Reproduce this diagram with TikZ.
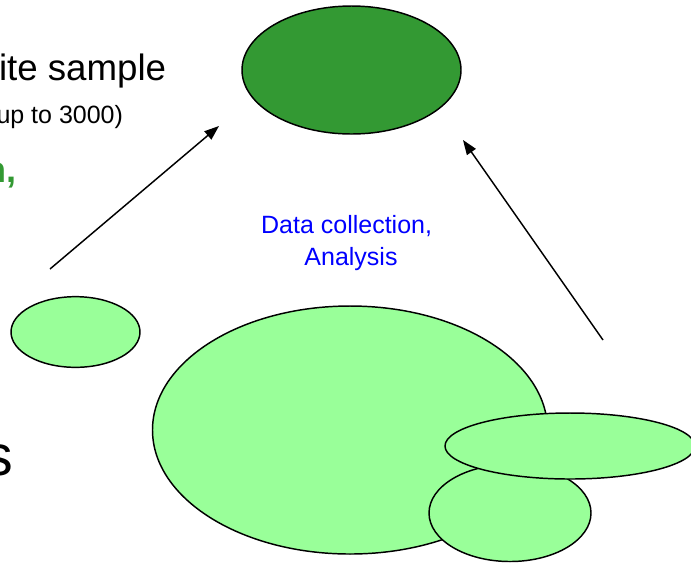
\documentclass[tikz,border=0pt]{standalone}
\usepackage{fontspec}
\setmainfont{Liberation Sans}
\usetikzlibrary{shapes.geometric,arrows.meta}
\definecolor{darkleaf}{HTML}{339933}
\definecolor{lightleaf}{HTML}{99FF99}
\definecolor{notetext}{HTML}{0000FF}
\tikzset{
  blob/.style={ellipse, draw=black, line width=1.1pt, inner sep=0pt},
  pointer/.style={draw=black, line width=1.1pt, -{Triangle[length=11pt,width=8pt]}},
  plain/.style={inner sep=0pt, outer sep=0pt}
}
\begin{document}
\begin{tikzpicture}[x=0.75pt, y=-0.75pt]
  \useasboundingbox (0,0) rectangle (691,562);
  \clip (0,0) rectangle (691,562);
  \fill[white] (0,0) rectangle (691,562);

  % left-hand text, partly running off the edge
  \node[plain, anchor=base west, font=\fontsize{27.5}{33}\selectfont] (title) at (-1,80) {ite sample};
  \node[plain, anchor=base east, font=\fontsize{18.75}{23}\selectfont] (range) at (123,123) {up to 3000)};
  \node[plain, anchor=base east, text=darkleaf, font=\fontsize{27}{32}\bfseries] (tag) at (16,182) {n,};
  \node[plain, anchor=base east, font=\fontsize{43}{50}\selectfont] (tail) at (13,475) {s};

  % population ellipses
  \node[blob, fill=darkleaf, minimum width=164.25pt, minimum height=96pt] (top) at (351.5,70) {};
  \node[blob, fill=lightleaf, minimum width=96.75pt, minimum height=53pt] (small) at (75.5,332) {};
  \node[blob, fill=lightleaf, minimum width=296.25pt, minimum height=186pt] (big) at (350,430) {};
  \node[blob, fill=lightleaf, minimum width=121.5pt, minimum height=72.75pt] (lower) at (510,513) {};
  \node[blob, fill=lightleaf, minimum width=187.5pt, minimum height=49.5pt] (flat) at (570,446) {};

  % arrows towards the sample
  \coordinate (a1s) at (50,269);
  \coordinate (a1e) at (219,126);
  \coordinate (a2s) at (603,340);
  \coordinate (a2e) at (463,140);
  \draw[pointer] (a1s) -- (a1e);
  \draw[pointer] (a2s) -- (a2e);

  % label between the arrows; base anchor sits on the last line
  \node[plain, anchor=base, align=center, text=notetext, font=\fontsize{18.75}{24}\selectfont] (note) at (351,265)
    {Data collection,\hspace*{0.35em}\\Analysis};
\end{tikzpicture}
\end{document}
